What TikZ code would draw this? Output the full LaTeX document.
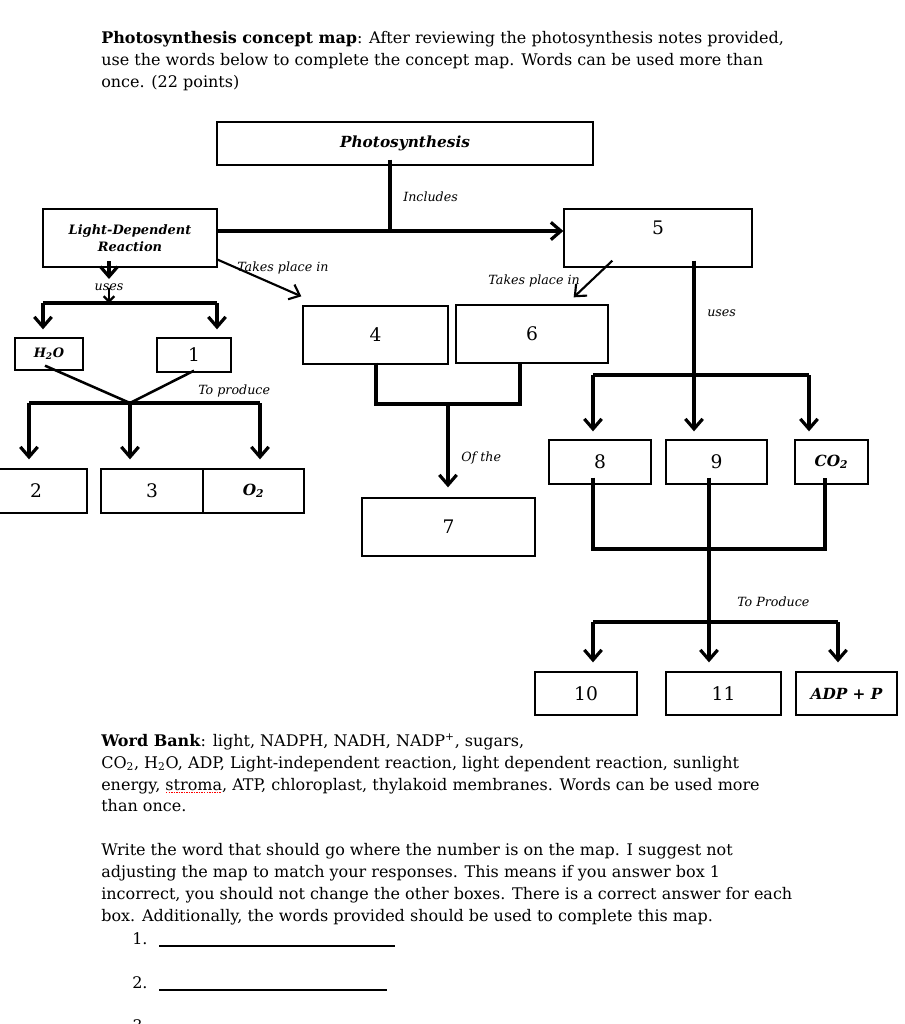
\documentclass[tikz,border=0pt]{standalone}
\usepackage{fontspec}
\setmainfont{DejaVu Serif}
\usetikzlibrary{arrows.meta}
\newdimen\pxu \pxu=0.75pt
\newsavebox\sebox
\newcommand\spellerr[1]{\sbox\sebox{#1}\rlap{\raisebox{-2.6pt}[0pt][0pt]{\hbox{\color{red}\leaders\hbox to 1.9pt{\hss\rule{1.1pt}{0.9pt}\hss}\hskip\wd\sebox}}}#1}
\begin{document}
\begin{tikzpicture}[x=0.75pt,y=-0.75pt,
  box/.style={draw, line width=1pt, inner sep=0pt, align=center, font=\fontsize{14}{16}\selectfont},
  sz/.style 2 args={minimum width=#1\pxu, minimum height=#2\pxu},
  bi/.style={font=\bfseries\itshape\fontsize{11.5}{14}\selectfont},
  bis/.style={font=\bfseries\itshape\fontsize{9.7}{13}\selectfont},
  conn/.style={line width=2.4pt},
  thinconn/.style={line width=1.6pt},
  arr/.style={-{Straight Barb[length=7.5pt,width=13pt]}},
  tarr/.style={-{Straight Barb[length=7pt,width=12pt]}},
  smallarr/.style={-{Straight Barb[length=4pt,width=8pt]}},
  lbl/.style={font=\itshape\fontsize{9.5}{11}\selectfont, inner sep=0pt},
  body/.style={font=\fontsize{12}{16.5}\selectfont, inner sep=0pt, anchor=base west}
]
\useasboundingbox (0,0) rectangle (904,1024);

% ---------- header text ----------
\node[body] (h1) at (101,44) {\textbf{Photosynthesis concept map}: After reviewing the photosynthesis notes provided,};
\node[body] (h2) at (101,66) {use the words below to complete the concept map. Words can be used more than};
\node[body] (h3) at (101,88) {once. (22 points)};

% ---------- boxes ----------
\node[box, bi, sz={376}{43}] (ph) at (405,143.5) {Photosynthesis};
\node[box, bis, sz={174}{58}] (ld) at (130,238) {Light-Dependent\\Reaction};
\node[box, sz={188}{58}, label={[font=\fontsize{14}{16}\selectfont, anchor=north, yshift=-6pt]north:5}] (b5) at (658,238) {};
\node[box, bis, sz={68}{32}] (h2o) at (49,354) {H\textsubscript{2}O};
\node[box, sz={74}{34}] (b1) at (194,355) {1};
\node[box, sz={102}{44}] (b2) at (36,491) {2};
\node[box, sz={102}{44}] (b3) at (152,491) {3};
\node[box, bi, sz={101}{44}] (o2) at (253.5,491) {O\textsubscript{2}};
\node[box, sz={145}{58}] (b4) at (375.5,335) {4};
\node[box, sz={152}{58}] (b6) at (532,334) {6};
\node[box, sz={173}{58}] (b7) at (448.5,527) {7};
\node[box, sz={102}{44}] (b8) at (600,462) {8};
\node[box, sz={101}{44}] (b9) at (716.5,462) {9};
\node[box, bi, sz={73}{44}] (co2) at (831.5,462) {CO\textsubscript{2}};
\node[box, sz={102}{43}] (b10) at (586,693.5) {10};
\node[box, sz={115}{43}] (b11) at (723.5,693.5) {11};
\node[box, bi, sz={101}{43}] (adp) at (846.5,693.5) {ADP + P};

% ---------- labels ----------
\node[lbl, anchor=west] (tinc) at (403,197) {Includes};
\node[lbl] (tuses1) at (109,287) {uses};
\node[lbl, anchor=west] (tprod1) at (198,391) {To produce};
\node[lbl, anchor=west] (ttp1) at (237,268) {Takes place in};
\node[lbl, anchor=east] (ttp2) at (580,281) {Takes place in};
\node[lbl, anchor=west] (tuses2) at (707,313) {uses};
\node[lbl, anchor=west] (tof) at (461,458) {Of the};
\node[lbl, anchor=west] (tprod2) at (737,602) {To Produce};

% ---------- junctions ----------
\coordinate (jinc) at (390,231);
\coordinate (usesA) at (109,279);
\coordinate (usesB) at (109,288);
\coordinate (juses) at (109,303);
\coordinate (jL1) at (43,303);
\coordinate (jR1) at (217,303);
\coordinate (jprod) at (130,403);
\coordinate (jL2) at (29,403);
\coordinate (jR2) at (260,403);
\coordinate (juse2) at (694,375);
\coordinate (j8) at (593,375);
\coordinate (jco) at (809,375);
\coordinate (j4) at (376,404);
\coordinate (j6) at (520,404);
\coordinate (j7) at (448,404);
\coordinate (k8) at (593,549);
\coordinate (kco) at (825,549);
\coordinate (k9) at (709,549);
\coordinate (k10) at (593,622);
\coordinate (kadp) at (838,622);

% ---------- connectors ----------
\draw[conn] ([yshift=4.5pt]ph.south -| jinc) -- (jinc);
\draw[conn,arr] (ld.east |- jinc) -- (b5.west |- jinc);

\draw[conn,arr] ([yshift=5pt]ld.south -| usesA) -- (usesA);
\draw[thinconn,smallarr] (usesB) -- (juses);
\draw[conn] (jL1) -- (jR1);
\draw[conn,arr] (jL1) -- ([yshift=6pt]h2o.north -| jL1);
\draw[conn,arr] (jR1) -- ([yshift=6pt]b1.north -| jR1);

\draw[line width=1.9pt] ([xshift=-3pt,yshift=3.75pt]h2o.south) -- (jprod);
\draw[line width=1.9pt] ([yshift=1.5pt]b1.south) -- (jprod);
\draw[conn] (jL2) -- (jR2);
\draw[conn,arr] (jL2) -- ([yshift=6.75pt]b2.north -| jL2);
\draw[conn,arr] (jprod) -- ([yshift=6.75pt]b3.north -| jprod);
\draw[conn,arr] (jR2) -- ([yshift=6.75pt]o2.north -| jR2);

\draw[thinconn,tarr] ([yshift=6pt]ld.south east) -- ([xshift=-0.75pt,yshift=6.75pt]b4.north west);
\draw[thinconn,tarr] ([xshift=36.75pt,yshift=5.25pt]b5.south west) -- ([xshift=-26.25pt,yshift=5.25pt]b6.north east);

\draw[conn] ([yshift=5.25pt]b5.south -| juse2) -- (juse2);
\draw[conn] (j8) -- (jco);
\draw[conn,arr] (j8) -- ([yshift=6pt]b8.north -| j8);
\draw[conn,arr] (juse2) -- ([yshift=6pt]b9.north -| juse2);
\draw[conn,arr] (jco) -- ([yshift=6pt]co2.north -| jco);

\draw[conn] ([yshift=1.5pt]b4.south -| j4) -- (j4) -- (j6) -- ([yshift=1.5pt]b6.south -| j6);
\draw[conn,arr] (j7) -- ([yshift=7.5pt]b7.north -| j7);

\draw[conn] ([yshift=5.25pt]b8.south -| k8) -- (k8) -- (kco) -- ([yshift=5.25pt]co2.south -| kco);
\draw[conn,arr] ([yshift=5.25pt]b9.south -| k9) -- ([yshift=6.75pt]b11.north -| k9);
\draw[conn] (k10) -- (kadp);
\draw[conn,arr] (k10) -- ([yshift=6.75pt]b10.north -| k10);
\draw[conn,arr] (kadp) -- ([yshift=6.75pt]adp.north -| kadp);

% ---------- word bank and instructions ----------
\node[body] (w1) at (101,746) {\textbf{Word Bank}: light, NADPH, NADH, NADP\textsuperscript{+}, sugars,};
\node[body] (w2) at (101,768) {CO\textsubscript{2}, H\textsubscript{2}O, ADP, Light-independent reaction, light dependent reaction, sunlight};
\node[body] (w3) at (101,790) {energy, \spellerr{stroma}, ATP, chloroplast, thylakoid membranes. Words can be used more};
\node[body] (w4) at (101,811) {than once.};

\node[body] (p1) at (101,855) {Write the word that should go where the number is on the map. I suggest not};
\node[body] (p2) at (101,877) {adjusting the map to match your responses. This means if you answer box 1};
\node[body] (p3) at (101,899) {incorrect, you should not change the other boxes. There is a correct answer for each};
\node[body] (p4) at (101,921) {box. Additionally, the words provided should be used to complete this map.};

\node[body] (n1) at (132,944) {1.};
\draw[line width=0.8pt] (159,946) -- (395,946);
\node[body] (n2) at (132,988) {2.};
\draw[line width=0.8pt] (159,990) -- (387,990);
\node[body] (n3) at (132,1031) {3.};
\end{tikzpicture}
\end{document}
